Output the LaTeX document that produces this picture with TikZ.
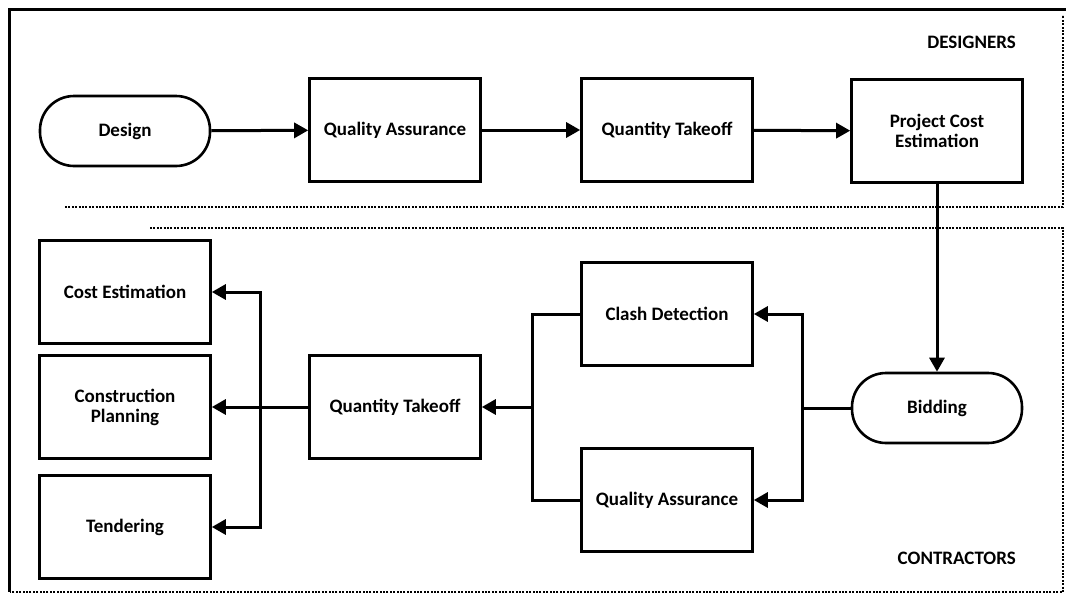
\documentclass[tikz,border=0pt]{standalone}
\usepackage{fontspec}
\setmainfont{Carlito}
\usetikzlibrary{arrows.meta}
\begin{document}
\begin{tikzpicture}[x=1pt,y=-1pt,
  every node/.style={font=\fontsize{19}{20}\selectfont\bfseries, align=center, inner sep=0pt},
  stepbox/.style={draw, line width=2.6pt, minimum width=171pt, minimum height=103pt},
  terminal/.style={draw, line width=2.6pt, minimum width=170pt, minimum height=70pt, rounded corners=34pt},
  link/.style={line width=3pt},
  arr/.style={link, -{Triangle[length=14pt,width=15pt]}},
  lane/.style={line width=2.6pt, dash pattern=on 2pt off 1.4pt},
  lanelabel/.style={anchor=east, font=\fontsize{19}{20}\selectfont\bfseries}
]
\useasboundingbox (0,0) rectangle (1072,600);

% swimlane frames
\draw[line width=3pt] (8,9) -- (1066,9);
\draw[line width=3pt] (9,8) -- (9,592);
\draw[lane] (65,207) -- (1063,207) -- (1063,15);
\draw[lane] (150,228) -- (1063,228) -- (1063,592) -- (10,592);

\node[lanelabel] (designers) at (1016,42) {DESIGNERS};
\node[lanelabel] (contractors) at (1016,558) {CONTRACTORS};

% designers lane
\node[terminal] (design) at (125,131) {Design};
\node[stepbox] (qa1) at (395,130) {Quality Assurance};
\node[stepbox] (qt1) at (667,130) {Quantity Takeoff};
\node[stepbox] (pce) at (937,131) {Project Cost\\Estimation};

% contractors lane
\node[terminal] (bid) at (937,408) {Bidding};
\node[stepbox] (clash) at (667,314) {Clash Detection};
\node[stepbox] (qa2) at (667,500) {Quality Assurance};
\node[stepbox] (qt2) at (395,407) {Quantity Takeoff};
\node[stepbox] (cost) at (125,292) {Cost Estimation};
\node[stepbox] (plan) at (125,407) {Construction\\Planning};
\node[stepbox] (tend) at (125,527) {Tendering};

% junction points
\coordinate (jr) at (802,408);
\coordinate (jm) at (532,407);
\coordinate (jl) at (260,407);

% connectors
\draw[arr] (design) -- (qa1);
\draw[arr] (qa1) -- (qt1);
\draw[arr] (qt1) -- (pce);
\draw[arr] (pce) -- (bid);
\draw[link] (bid.west) -- (jr);
\draw[arr] (jr) |- (clash.east);
\draw[arr] (jr) |- (qa2.east);
\draw[link] (clash.west) -| (jm) |- (qa2.west);
\draw[arr] (jm) -- (qt2.east);
\draw[arr] (qt2.west) -- (plan.east);
\draw[arr] (jl) |- (cost.east);
\draw[arr] (jl) |- (tend.east);
\end{tikzpicture}
\end{document}
